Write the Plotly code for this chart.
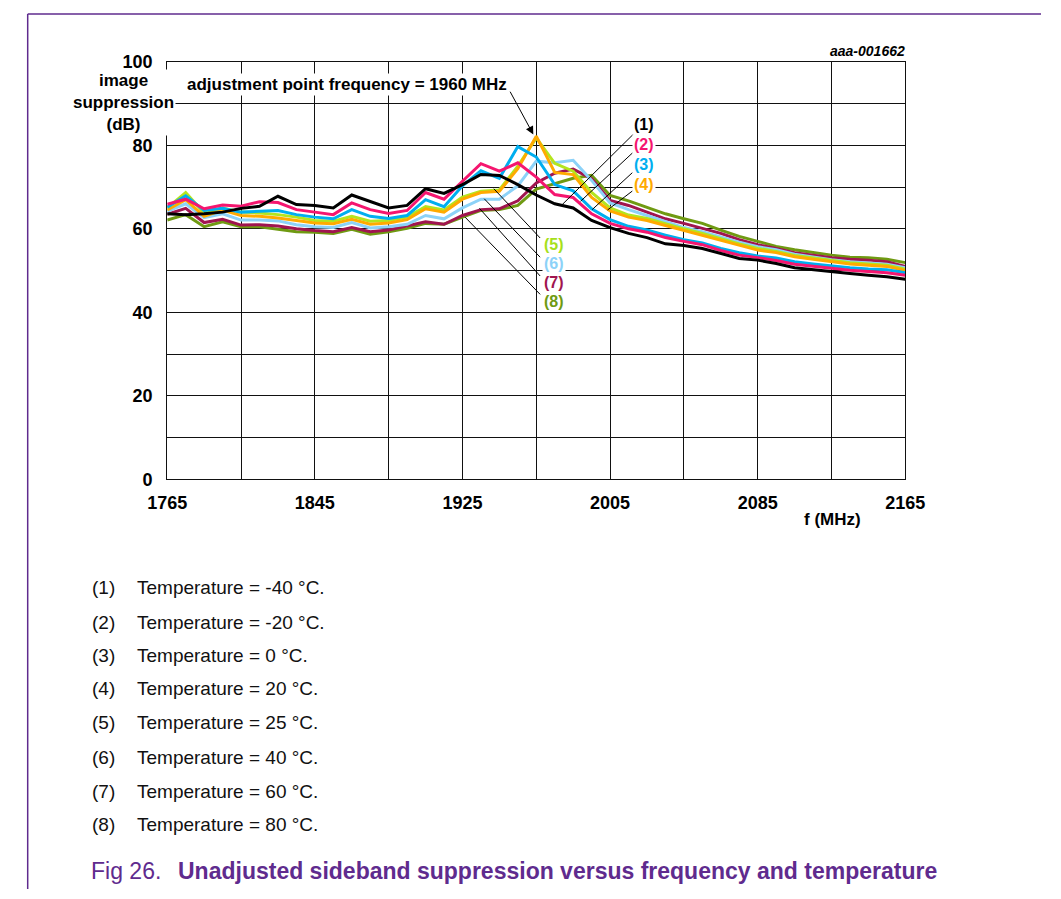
import plotly.graph_objects as go

# ---------------- data ----------------
freq_mhz = list(range(1765, 2166, 10))

temp_labels = ["(1)", "(2)", "(3)", "(4)", "(5)", "(6)", "(7)", "(8)"]
temperatures = ["-40", "-20", "0", "20", "25", "40", "60", "80"]

supp_m40 = [63.6, 63.4, 63.6, 64.0, 64.9, 65.4, 67.8, 65.8, 65.6, 65.0, 68.1, 66.6, 65.0,
            65.6, 69.6, 68.5, 70.6, 73.0, 72.8, 70.6, 68.1, 66.0, 65.0, 62.0, 60.3,
            58.9, 57.9, 56.4, 56.0, 55.3, 54.1, 52.9, 52.5, 51.7, 50.7, 50.2, 49.8, 49.3, 48.9, 48.5, 47.9]
supp_m20 = [65.9, 67.1, 64.8, 65.7, 65.4, 66.5, 66.3, 64.6, 64.0, 63.4, 66.2, 64.6, 63.7,
            64.4, 68.7, 67.1, 71.4, 75.6, 73.8, 75.8, 72.4, 68.2, 67.5, 63.6, 61.3,
            60.0, 59.2, 57.9, 57.0, 56.2, 54.8, 53.7, 53.1, 52.4, 51.5, 51.0, 50.5, 50.1, 49.8, 49.5, 48.9]
supp_0 = [65.2, 67.9, 64.4, 64.9, 64.0, 64.2, 64.4, 63.4, 62.8, 62.4, 64.6, 63.0, 62.5,
          63.2, 67.0, 65.3, 70.3, 73.9, 72.1, 79.7, 77.2, 70.6, 69.1, 64.8, 62.2,
          60.6, 59.7, 58.5, 57.4, 56.6, 55.3, 54.3, 53.5, 53.0, 52.1, 51.6, 51.1, 50.7, 50.4, 50.2, 49.5]
supp_20 = [64.5, 67.0, 63.0, 64.5, 63.2, 63.0, 62.6, 62.0, 61.4, 61.2, 62.3, 61.1, 61.4,
           62.2, 64.8, 64.0, 67.1, 68.7, 69.0, 74.4, 82.2, 73.5, 73.0, 67.5, 64.3,
           62.8, 62.0, 60.8, 59.6, 58.5, 57.2, 56.0, 54.9, 54.3, 53.3, 52.7, 52.1, 51.6, 51.3, 51.0, 50.0]
supp_25 = [65.0, 68.7, 63.8, 65.0, 64.0, 63.8, 63.4, 62.8, 62.0, 61.8, 63.0, 61.8, 62.0,
           62.8, 65.3, 64.5, 67.6, 69.0, 69.3, 75.0, 81.8, 75.7, 73.8, 68.7, 65.0,
           63.3, 62.5, 61.2, 60.0, 58.9, 57.6, 56.4, 55.3, 54.6, 53.6, 53.0, 52.4, 51.9, 51.6, 51.3, 50.3]
supp_40 = [64.2, 66.0, 62.7, 63.6, 62.1, 62.1, 61.9, 61.0, 60.5, 60.3, 61.5, 60.2, 60.5,
           61.1, 63.2, 62.4, 65.0, 67.1, 67.1, 70.3, 76.2, 75.8, 76.4, 71.6, 66.2,
           64.6, 63.2, 61.7, 60.3, 59.3, 58.0, 56.8, 55.7, 55.0, 53.9, 53.2, 52.6, 52.1, 51.8, 51.5, 50.7]
supp_60 = [63.5, 64.9, 61.5, 62.3, 60.9, 61.0, 60.7, 60.0, 59.6, 59.3, 60.3, 59.3, 59.7,
           60.7, 61.7, 61.1, 63.2, 64.6, 64.8, 66.7, 71.0, 73.3, 74.3, 72.0, 66.8,
           65.6, 64.0, 62.4, 61.3, 60.1, 58.9, 57.4, 56.2, 55.3, 54.3, 53.7, 53.1, 52.7, 52.5, 52.1, 51.0]
supp_80 = [62.1, 63.4, 60.5, 61.7, 60.5, 60.5, 59.9, 59.3, 59.2, 58.9, 59.9, 58.7, 59.3,
           60.1, 61.3, 61.1, 62.8, 64.4, 64.6, 65.6, 69.5, 70.8, 72.1, 72.8, 68.0,
           66.7, 65.2, 63.6, 62.4, 61.3, 59.7, 58.2, 57.0, 55.8, 55.0, 54.3, 53.7, 53.2, 53.1, 52.7, 51.9]

x_tick_vals = list(range(1765, 2166, 40))
x_tick_labels = ["1765", "", "1845", "", "1925", "", "2005", "", "2085", "", "2165"]
y_tick_vals = list(range(0, 101, 10))
y_tick_labels = ["0", "", "20", "", "40", "", "60", "", "80", "", "100"]

# ---------------- styles ----------------
series = [supp_m40, supp_m20, supp_0, supp_20, supp_25, supp_40, supp_60, supp_80]
colors = ["#000000", "#F5166F", "#00AEEF", "#FFAA00", "#B4E51E", "#8CD2F8", "#A0154F", "#6F9A12"]
label_colors = ["#000000", "#F5166F", "#00AEEF", "#FFAA00", "#A6E01A", "#8CD2F8", "#A0154F", "#6F9A12"]
FONT = "Liberation Sans, Arial, sans-serif"
PURPLE = "#5F2B8E"
W, H = 1061, 899


def px(x):
    return x / W


def py(y):
    return 1 - y / H


fig = go.Figure()
for i in reversed(range(8)):
    fig.add_trace(go.Scatter(x=freq_mhz, y=series[i], mode="lines",
                             line=dict(color=colors[i], width=3), showlegend=False,
                             hoverinfo="skip"))

fig.update_layout(
    width=W, height=H, margin=dict(l=0, r=0, t=0, b=0),
    paper_bgcolor="white", plot_bgcolor="white", showlegend=False,
    xaxis=dict(domain=[px(153), px(920)], range=[1765, 2165], tickmode="array",
               tickvals=x_tick_vals, ticktext=["<b>%s</b>" % t if t else "" for t in x_tick_labels],
               showgrid=True, gridcolor="#111", gridwidth=1, zeroline=False,
               showline=True, linecolor="#111", linewidth=1, mirror=True,
               ticks="", ticklabelstandoff=7,
               tickfont=dict(family=FONT, size=18, color="#000")),
    yaxis=dict(domain=[py(480), py(53)], range=[0, 100], tickmode="array",
               tickvals=y_tick_vals, ticktext=["<b>%s</b>" % t if t else "" for t in y_tick_labels],
               showgrid=True, gridcolor="#111", gridwidth=1, zeroline=False,
               showline=True, linecolor="#111", linewidth=1, mirror=True,
               ticks="", ticklabelstandoff=10,
               tickfont=dict(family=FONT, size=18, color="#000")),
)

ann = []
# y axis title
ann.append(dict(xref="paper", yref="paper", x=px(108), y=py(95), xanchor="center", yanchor="middle",
                text="<b>image<br>suppression<br>(dB)</b>", showarrow=False, bgcolor="white",
                font=dict(family=FONT, size=17, color="#000"), align="center"))
# x axis title
ann.append(dict(xref="paper", yref="paper", x=px(844), y=py(521), xanchor="center", yanchor="middle",
                text="<b>f (MHz)</b>", showarrow=False, font=dict(family=FONT, size=17, color="#000")))
# figure id
ann.append(dict(xref="paper", yref="paper", x=px(922), y=py(42), xanchor="right", yanchor="middle",
                text="<b><i>aaa-001662</i></b>", showarrow=False, font=dict(family=FONT, size=14, color="#000")))
# adjustment annotation text
ann.append(dict(xref="paper", yref="paper", x=px(340), y=py(76), xanchor="center", yanchor="middle",
                text="<b>adjustment point frequency = 1960 MHz</b>", showarrow=False, bgcolor="white",
                font=dict(family=FONT, size=17, color="#000")))
# arrow
ann.append(dict(xref="x", yref="y", x=1963.4, y=82.6, axref="x", ayref="y", ax=1950.4, ay=93.2,
                text="", showarrow=True, arrowhead=2, arrowsize=1.6, arrowwidth=1, arrowcolor="#000"))

# curve labels with leader lines (data coordinates)
label_pos = [(2023.5, 85.0), (2023.5, 80.3), (2023.5, 75.4), (2023.5, 70.7),
             (1974.4, 56.2), (1974.4, 51.8), (1974.4, 47.1), (1974.4, 42.6)]
leaders = [((2017.7, 82.7), (1978.6, 65.6)), ((2017.2, 78.2), (1989.0, 66.6)),
           ((2017.2, 73.5), (1995.3, 64.6)), ((2017.2, 69.1), (2003.6, 64.5)),
           ((1967.1, 57.8), (1942.0, 69.6)), ((1967.1, 53.2), (1936.8, 67.2)),
           ((1967.1, 48.7), (1934.2, 64.9)), ((1967.1, 44.3), (1926.4, 62.8))]
shapes = []
for i in range(8):
    lx, ly = label_pos[i]
    ann.append(dict(xref="x", yref="y", x=lx, y=ly, xanchor="center", yanchor="middle",
                    text="<b>%s</b>" % temp_labels[i], showarrow=False, bgcolor="white",
                    font=dict(family=FONT, size=16, color=label_colors[i])))
    (x0, y0), (x1, y1) = leaders[i]
    shapes.append(dict(type="line", xref="x", yref="y", x0=x0, y0=y0, x1=x1, y1=y1,
                       line=dict(color="#000", width=1), layer="above"))

# temperature list below chart
row_y = [591, 626, 660, 694, 729, 764, 799, 833]
for i in range(8):
    ann.append(dict(xref="paper", yref="paper", x=px(73), y=py(row_y[i]), xanchor="left", yanchor="middle",
                    text=temp_labels[i], showarrow=False, font=dict(family=FONT, size=19, color="#111")))
    ann.append(dict(xref="paper", yref="paper", x=px(119), y=py(row_y[i]), xanchor="left", yanchor="middle",
                    text="Temperature = %s °C." % temperatures[i], showarrow=False,
                    font=dict(family=FONT, size=19, color="#111")))

# caption
ann.append(dict(xref="paper", yref="paper", x=px(72), y=py(881), xanchor="left", yanchor="middle",
                text="Fig 26.", showarrow=False, font=dict(family=FONT, size=23, color=PURPLE)))
ann.append(dict(xref="paper", yref="paper", x=px(162), y=py(881), xanchor="left", yanchor="middle",
                text="<b>Unadjusted sideband suppression versus frequency and temperature</b>",
                showarrow=False, font=dict(family=FONT, size=23, color=PURPLE)))

# page frame
shapes.append(dict(type="line", xref="paper", yref="paper", x0=px(8), y0=py(4), x1=px(8), y1=0,
                   line=dict(color=PURPLE, width=1.5)))
shapes.append(dict(type="line", xref="paper", yref="paper", x0=px(8), y0=py(4), x1=1, y1=py(4),
                   line=dict(color=PURPLE, width=1.5)))

fig.update_layout(annotations=ann, shapes=shapes)
fig.write_html("out.html")
